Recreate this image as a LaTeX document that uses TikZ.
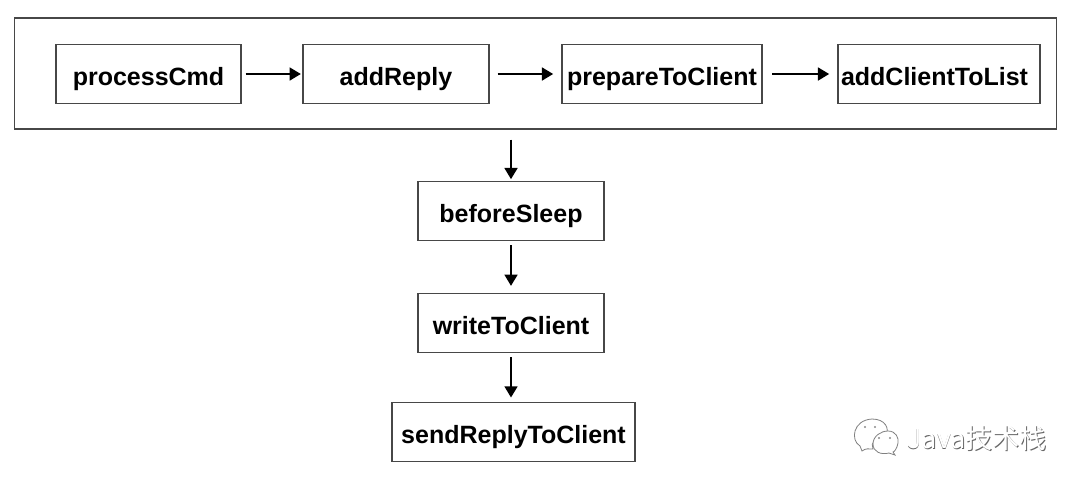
\documentclass[tikz,border=0pt]{standalone}
\usepackage{fontspec}
\setmainfont{Liberation Sans}
\newfontfamily\cjk{Noto Sans CJK SC}
\usetikzlibrary{arrows.meta}
\tikzset{
  every picture/.style={x=0.75pt,y=-0.75pt},
  procbox/.style={draw=black!72,line width=1.1pt,minimum height=44.5pt,inner sep=0pt,text height=20.5pt,text depth=4pt,font=\bfseries\fontsize{18.75}{20}\selectfont,text=black},
  flow/.style={draw=black,line width=2pt,-{Triangle[length=8.5pt,width=9.5pt]},shorten >=1pt,shorten <=3pt},
  markshade/.style={draw=black!50,line width=0.6pt,fill=white},
  marklight/.style={font=\cjk\fontsize{20.3}{22}\selectfont},
}
\begin{document}
\begin{tikzpicture}
\useasboundingbox (0,0) rectangle (1080,487);
\fill[white] (0,0) rectangle (1080,487);
% enclosing frame of the first stage
\node[draw=black!72,line width=1.15pt,minimum width=781.5pt,minimum height=83pt,inner sep=0pt] (stage) at (535.5,73.5) {};
% first stage
\node[procbox,minimum width=138.75pt] (cmd) at (148.5,74) {processCmd};
\node[procbox,minimum width=139.5pt] (add) at (396,74) {addReply};
\node[procbox,minimum width=150pt] (prep) at (662,74) {prepareToClient};
\node[procbox,minimum width=151.5pt,text width=147pt,align=left] (list) at (939,74) {addClientToList};
% later stages
\node[procbox,minimum width=139.5pt] (sleep) at (511,211) {beforeSleep};
\node[procbox,minimum width=139.5pt] (write) at (511,323) {writeToClient};
\node[procbox,minimum width=182.25pt] (send) at (513.5,432) {sendReplyToClient};
% connectors
\draw[flow] (cmd) -- (add);
\draw[flow,shorten <=6pt,shorten >=6pt] (add) -- (prep);
\draw[flow,shorten <=7pt,shorten >=6pt] (prep) -- (list);
\draw[flow,shorten <=7.5pt,shorten >=1pt] (stage.south -| sleep.north) -- (sleep.north);
\draw[flow,shorten >=5pt] (sleep.south) -- (write.north);
\draw[flow,shorten >=3pt] (write.south) -- (send.north -| write.south);
% account mark: two speech bubbles and a light embossed name
\path[markshade] (860,446) .. controls (850,440) and (853,420) .. (872,419) .. controls (885,419) and (890,428) .. (886,437) .. controls (875,436) and (870,443) .. (873,449) .. controls (868,449) and (866,448) .. (862,451) -- (860,446) -- cycle;
\path[markshade] (873,444) .. controls (873,436) and (881,431) .. (888,431) .. controls (896,431) and (899,438) .. (898,443) .. controls (897,449) and (894,452) .. (893,452) -- (895,455) -- (889,453) .. controls (881,455) and (873,452) .. (873,444) -- cycle;
\foreach \px/\py in {865/427,875/427,879/438,890/438}
  \fill[black!45] (\px,\py) circle (0.9pt);
\node[marklight,text=black!60,anchor=west,inner sep=0pt] (markshadow) at (907.6,439.1) {Java技术栈};
\node[marklight,text=white,anchor=west,inner sep=0pt] (marktext) at (907,438.5) {Java技术栈};
\end{tikzpicture}
\end{document}
